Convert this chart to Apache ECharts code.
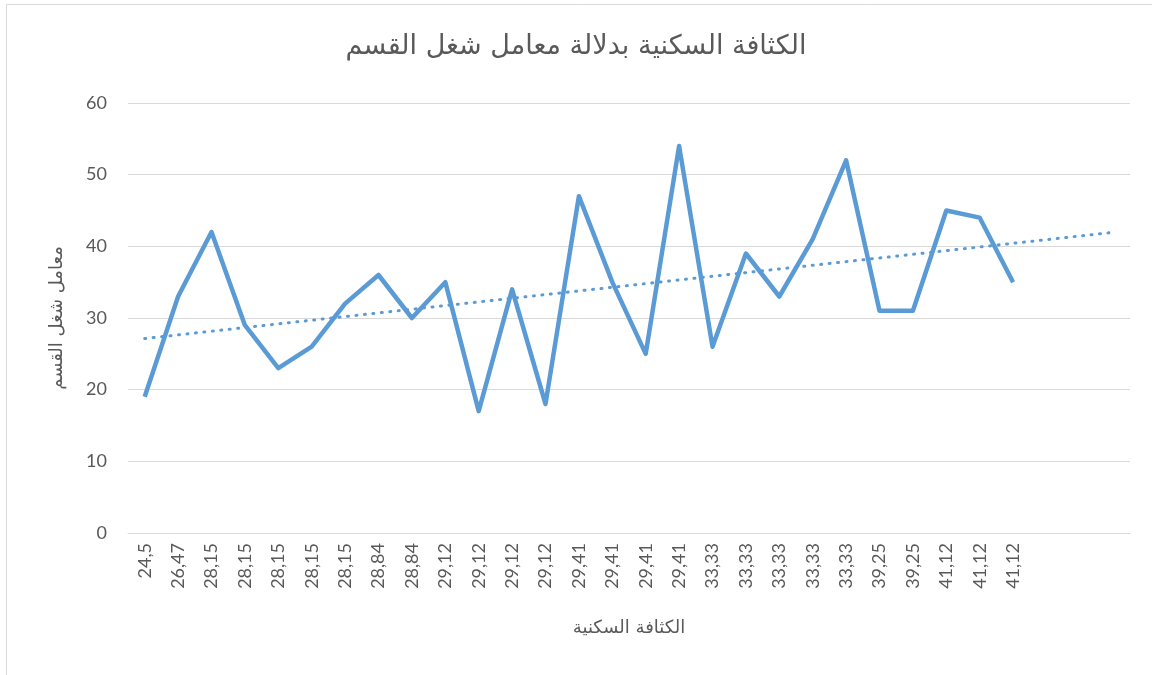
<!DOCTYPE html>
<html><head><meta charset="utf-8">
<script src="https://cdn.jsdelivr.net/npm/echarts@6/dist/echarts.min.js"></script>
<style>html,body{margin:0;padding:0;background:#fff}#c{width:1152px;height:675px}</style>
</head><body><div id="c"></div>
<script>
const categories = ['24,5','26,47','28,15','28,15','28,15','28,15','28,15','28,84','28,84','29,12','29,12','29,12','29,12','29,41','29,41','29,41','29,41','33,33','33,33','33,33','33,33','33,33','39,25','39,25','41,12','41,12','41,12','','',''];
const values = [19,33,42,29,23,26,32,36,30,35,17,34,18,47,35,25,54,26,39,33,41,52,31,31,45,44,35];
const yTicks = {min:0, max:60, interval:10};
const titleText = 'الكثافة السكنية بدلالة معامل شغل القسم';
const xName = 'الكثافة السكنية';
const yName = 'معامل شغل القسم';

// linear trendline (least squares), extended over all categories
const n = values.length;
let sx=0, sy=0, sxy=0, sxx=0;
values.forEach((v,i)=>{const x=i+1; sx+=x; sy+=v; sxy+=x*v; sxx+=x*x;});
const slope = (n*sxy - sx*sy)/(n*sxx - sx*sx);
const icpt = (sy - slope*sx)/n;
const trend = categories.map((c,i)=> +(icpt + slope*(i+1)).toFixed(3));

const font = "Lato, 'DejaVu Sans', sans-serif";
const arFont = "'DejaVu Sans', sans-serif";
const chart = echarts.init(document.getElementById('c'), null, {renderer:'canvas'});
chart.setOption({
  animation:false,
  graphic:[{type:'rect', shape:{x:6.5,y:4.5,width:1160,height:700}, style:{fill:'none', stroke:'#d9d9d9', lineWidth:1}}],
  title:{text:titleText, left:'center', top:28, textStyle:{fontFamily:arFont, fontSize:27, fontWeight:'normal', color:'#595959'}},
  grid:{left:128, right:22, top:103, bottom:142},
  xAxis:{type:'category', data:categories, boundaryGap:true,
    name:xName, nameLocation:'middle', nameGap:86,
    nameTextStyle:{fontFamily:arFont, fontSize:18, color:'#595959'},
    axisLine:{lineStyle:{color:'#d9d9d9', width:1}}, axisTick:{show:false},
    axisLabel:{rotate:90, interval:0, margin:10, fontFamily:font, fontSize:18, color:'#595959'}},
  yAxis:{type:'value', min:yTicks.min, max:yTicks.max, interval:yTicks.interval,
    name:yName, nameLocation:'middle', nameGap:62,
    nameTextStyle:{fontFamily:arFont, fontSize:18, color:'#595959'},
    axisLine:{show:false}, axisTick:{show:false},
    splitLine:{lineStyle:{color:'#d9d9d9', width:1}},
    axisLabel:{margin:21, fontFamily:font, fontSize:18, color:'#595959'}},
  series:[
    {type:'line', data:values, symbol:'none', lineStyle:{color:'#5b9bd5', width:4.5, join:'round'}, z:3},
    {type:'line', data:trend, symbol:'none', lineStyle:{color:'#5b9bd5', width:3, type:[1,7.5], cap:'round'}, z:2}
  ]
});
</script></body></html>
